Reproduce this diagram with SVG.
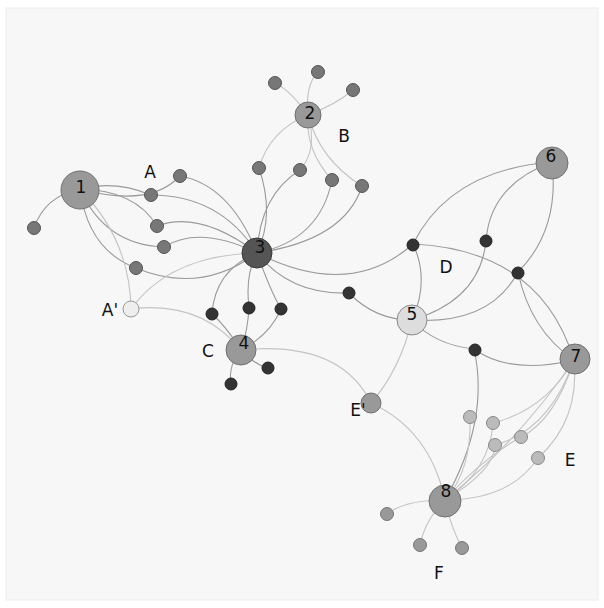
<svg xmlns="http://www.w3.org/2000/svg" width="604" height="608" viewBox="0 0 604 608">
<style>
.e{fill:none;stroke:#9a9a9a;stroke-width:1.1}
.l{fill:none;stroke:#c4c4c4;stroke-width:1.1}
.big{fill:#999;stroke:#6f6f6f;stroke-width:1}
.hub{fill:#555;stroke:#3a3a3a;stroke-width:1}
.sm{fill:#777;stroke:#555;stroke-width:1}
.dk{fill:#333;stroke:#222;stroke-width:1}
.lt{fill:#bbb;stroke:#888;stroke-width:1}
.f{fill:#999;stroke:#777;stroke-width:1}
text{font-family:"DejaVu Sans","Liberation Sans",sans-serif;font-size:17px;fill:#111;text-anchor:middle}
</style>
<rect x="0" y="0" width="604" height="608" fill="#fff"/>
<rect x="6" y="8" width="592" height="592" fill="#f7f7f7" stroke="#ececec"/>
<g id="edges">
<path class="e" d="M80,189 Q45,196 34,228"/>
<path class="e" d="M80,189 Q115,180 151,195"/>
<path class="e" d="M80,189 Q150,208 180,176"/>
<path class="e" d="M80,189 Q135,190 157,226"/>
<path class="e" d="M80,189 Q105,245 164,247"/>
<path class="e" d="M80,189 Q88,250 136,268"/>
<path class="l" d="M80,189 Q130,240 131,309"/>
<path class="e" d="M180,176 Q230,185 257,253"/>
<path class="e" d="M151,195 Q220,195 257,253"/>
<path class="e" d="M157,226 Q200,210 257,253"/>
<path class="e" d="M164,247 Q200,225 257,253"/>
<path class="e" d="M136,268 Q200,295 257,253"/>
<path class="l" d="M131,309 Q170,255 257,253"/>
<path class="l" d="M131,309 Q200,300 241,350"/>
<path class="l" d="M308,115 Q290,90 275,83"/>
<path class="l" d="M308,115 Q305,85 318,72"/>
<path class="l" d="M308,115 Q335,105 353,90"/>
<path class="l" d="M308,115 Q270,130 259,168"/>
<path class="l" d="M308,115 Q318,150 300,170"/>
<path class="l" d="M308,115 Q305,150 332,180"/>
<path class="l" d="M308,115 Q320,160 362,186"/>
<path class="e" d="M259,168 Q275,215 257,253"/>
<path class="e" d="M300,170 Q260,195 257,253"/>
<path class="e" d="M332,180 Q320,240 257,253"/>
<path class="e" d="M362,186 Q345,240 257,253"/>
<path class="e" d="M257,253 Q215,270 212,314"/>
<path class="e" d="M257,253 Q245,275 249,307"/>
<path class="e" d="M257,253 Q270,290 281,309"/>
<path class="e" d="M257,253 Q290,295 349,293"/>
<path class="e" d="M257,253 Q350,300 413,244"/>
<path class="e" d="M241,350 Q225,325 212,314"/>
<path class="e" d="M241,350 Q248,330 249,307"/>
<path class="e" d="M241,350 Q270,335 281,309"/>
<path class="e" d="M241,350 Q255,365 268,368"/>
<path class="e" d="M241,350 Q228,365 231,384"/>
<path class="l" d="M241,350 Q340,340 371,403"/>
<path class="e" d="M349,293 Q375,320 412,320"/>
<path class="e" d="M413,244 Q430,280 412,320"/>
<path class="e" d="M413,244 Q450,170 552,162"/>
<path class="e" d="M413,244 Q540,250 574,360"/>
<path class="e" d="M486,241 Q490,185 552,162"/>
<path class="e" d="M486,241 Q480,300 412,320"/>
<path class="e" d="M518,272 Q560,230 552,162"/>
<path class="e" d="M518,272 Q490,325 412,320"/>
<path class="e" d="M518,272 Q530,330 574,360"/>
<path class="e" d="M412,320 Q435,345 474,349"/>
<path class="e" d="M474,349 Q510,375 574,360"/>
<path class="e" d="M474,349 Q490,420 445,500"/>
<path class="l" d="M412,320 Q400,370 371,403"/>
<path class="l" d="M371,403 Q430,430 445,500"/>
<path class="l" d="M574,360 Q545,410 493,423"/>
<path class="l" d="M574,360 Q555,420 521,437"/>
<path class="l" d="M574,360 Q550,430 495,445"/>
<path class="l" d="M574,360 Q580,420 538,458"/>
<path class="l" d="M574,360 Q520,440 445,500"/>
<path class="l" d="M470,416 Q472,470 445,500"/>
<path class="l" d="M493,423 Q490,470 445,500"/>
<path class="l" d="M495,445 Q495,470 445,500"/>
<path class="l" d="M521,437 Q480,460 445,500"/>
<path class="l" d="M538,458 Q510,500 445,500"/>
<path class="l" d="M445,500 Q405,500 387,514"/>
<path class="l" d="M445,500 Q425,520 420,545"/>
<path class="l" d="M445,500 Q450,525 462,548"/>
</g>
<g id="n1"><circle class="big" cx="80" cy="190" r="19"/><text x="81" y="193">1</text></g>
<g id="n2"><circle class="big" cx="308" cy="115" r="13"/><text x="310" y="119">2</text></g>
<g id="n3"><circle class="hub" cx="257" cy="253" r="15"/><text x="260" y="253">3</text></g>
<g id="n4"><circle class="big" cx="241" cy="350" r="15"/><text x="244" y="349">4</text></g>
<g id="n5"><circle fill="#ddd" stroke="#888" cx="412" cy="320" r="15"/><text x="412" y="320">5</text></g>
<g id="n6"><circle class="big" cx="552" cy="163" r="16"/><text x="551" y="162">6</text></g>
<g id="n7"><circle class="big" cx="575" cy="359" r="15"/><text x="576" y="362">7</text></g>
<g id="n8"><circle class="big" cx="445" cy="501" r="16"/><text x="446" y="497">8</text></g>
<g id="nAp"><circle fill="#eee" stroke="#999" cx="131" cy="309" r="8"/><text x="110" y="316">A'</text></g>
<g id="nEp"><circle class="big" cx="371" cy="403" r="10"/><text x="358" y="416">E'</text></g>
<g id="s1"><circle class="sm" cx="34" cy="228" r="6.5"/></g>
<g id="a1"><circle class="sm" cx="151" cy="195" r="6.5"/></g>
<g id="a2"><circle class="sm" cx="180" cy="176" r="6.5"/></g>
<g id="a3"><circle class="sm" cx="157" cy="226" r="6.5"/></g>
<g id="a4"><circle class="sm" cx="164" cy="247" r="6.5"/></g>
<g id="a5"><circle class="sm" cx="136" cy="268" r="6.5"/></g>
<g id="b1"><circle class="sm" cx="275" cy="83" r="6.5"/></g>
<g id="b2"><circle class="sm" cx="318" cy="72" r="6.5"/></g>
<g id="b3"><circle class="sm" cx="353" cy="90" r="6.5"/></g>
<g id="b4"><circle class="sm" cx="259" cy="168" r="6.5"/></g>
<g id="b5"><circle class="sm" cx="300" cy="170" r="6.5"/></g>
<g id="b6"><circle class="sm" cx="332" cy="180" r="6.5"/></g>
<g id="b7"><circle class="sm" cx="362" cy="186" r="6.5"/></g>
<g id="c1"><circle class="dk" cx="212" cy="314" r="6"/></g>
<g id="c2"><circle class="dk" cx="249" cy="308" r="6"/></g>
<g id="c3"><circle class="dk" cx="281" cy="309" r="6"/></g>
<g id="c4"><circle class="dk" cx="268" cy="368" r="6"/></g>
<g id="c5"><circle class="dk" cx="231" cy="384" r="6"/></g>
<g id="d1"><circle class="dk" cx="349" cy="293" r="6"/></g>
<g id="d2"><circle class="dk" cx="413" cy="245" r="6"/></g>
<g id="d3"><circle class="dk" cx="486" cy="241" r="6"/></g>
<g id="d4"><circle class="dk" cx="518" cy="273" r="6"/></g>
<g id="d5"><circle class="dk" cx="475" cy="350" r="6"/></g>
<g id="e1"><circle class="lt" cx="470" cy="417" r="6.5"/></g>
<g id="e2"><circle class="lt" cx="493" cy="423" r="6.5"/></g>
<g id="e3"><circle class="lt" cx="521" cy="437" r="6.5"/></g>
<g id="e4"><circle class="lt" cx="495" cy="445" r="6.5"/></g>
<g id="e5"><circle class="lt" cx="538" cy="458" r="6.5"/></g>
<g id="f1"><circle class="f" cx="387" cy="514" r="6.5"/></g>
<g id="f2"><circle class="f" cx="420" cy="545" r="6.5"/></g>
<g id="f3"><circle class="f" cx="462" cy="548" r="6.5"/></g>
<g id="labels">
<text x="150" y="178">A</text>
<text x="344" y="142">B</text>
<text x="208" y="357">C</text>
<text x="446" y="273">D</text>
<text x="570" y="466">E</text>
<text x="439" y="579">F</text>
</g>
</svg>
